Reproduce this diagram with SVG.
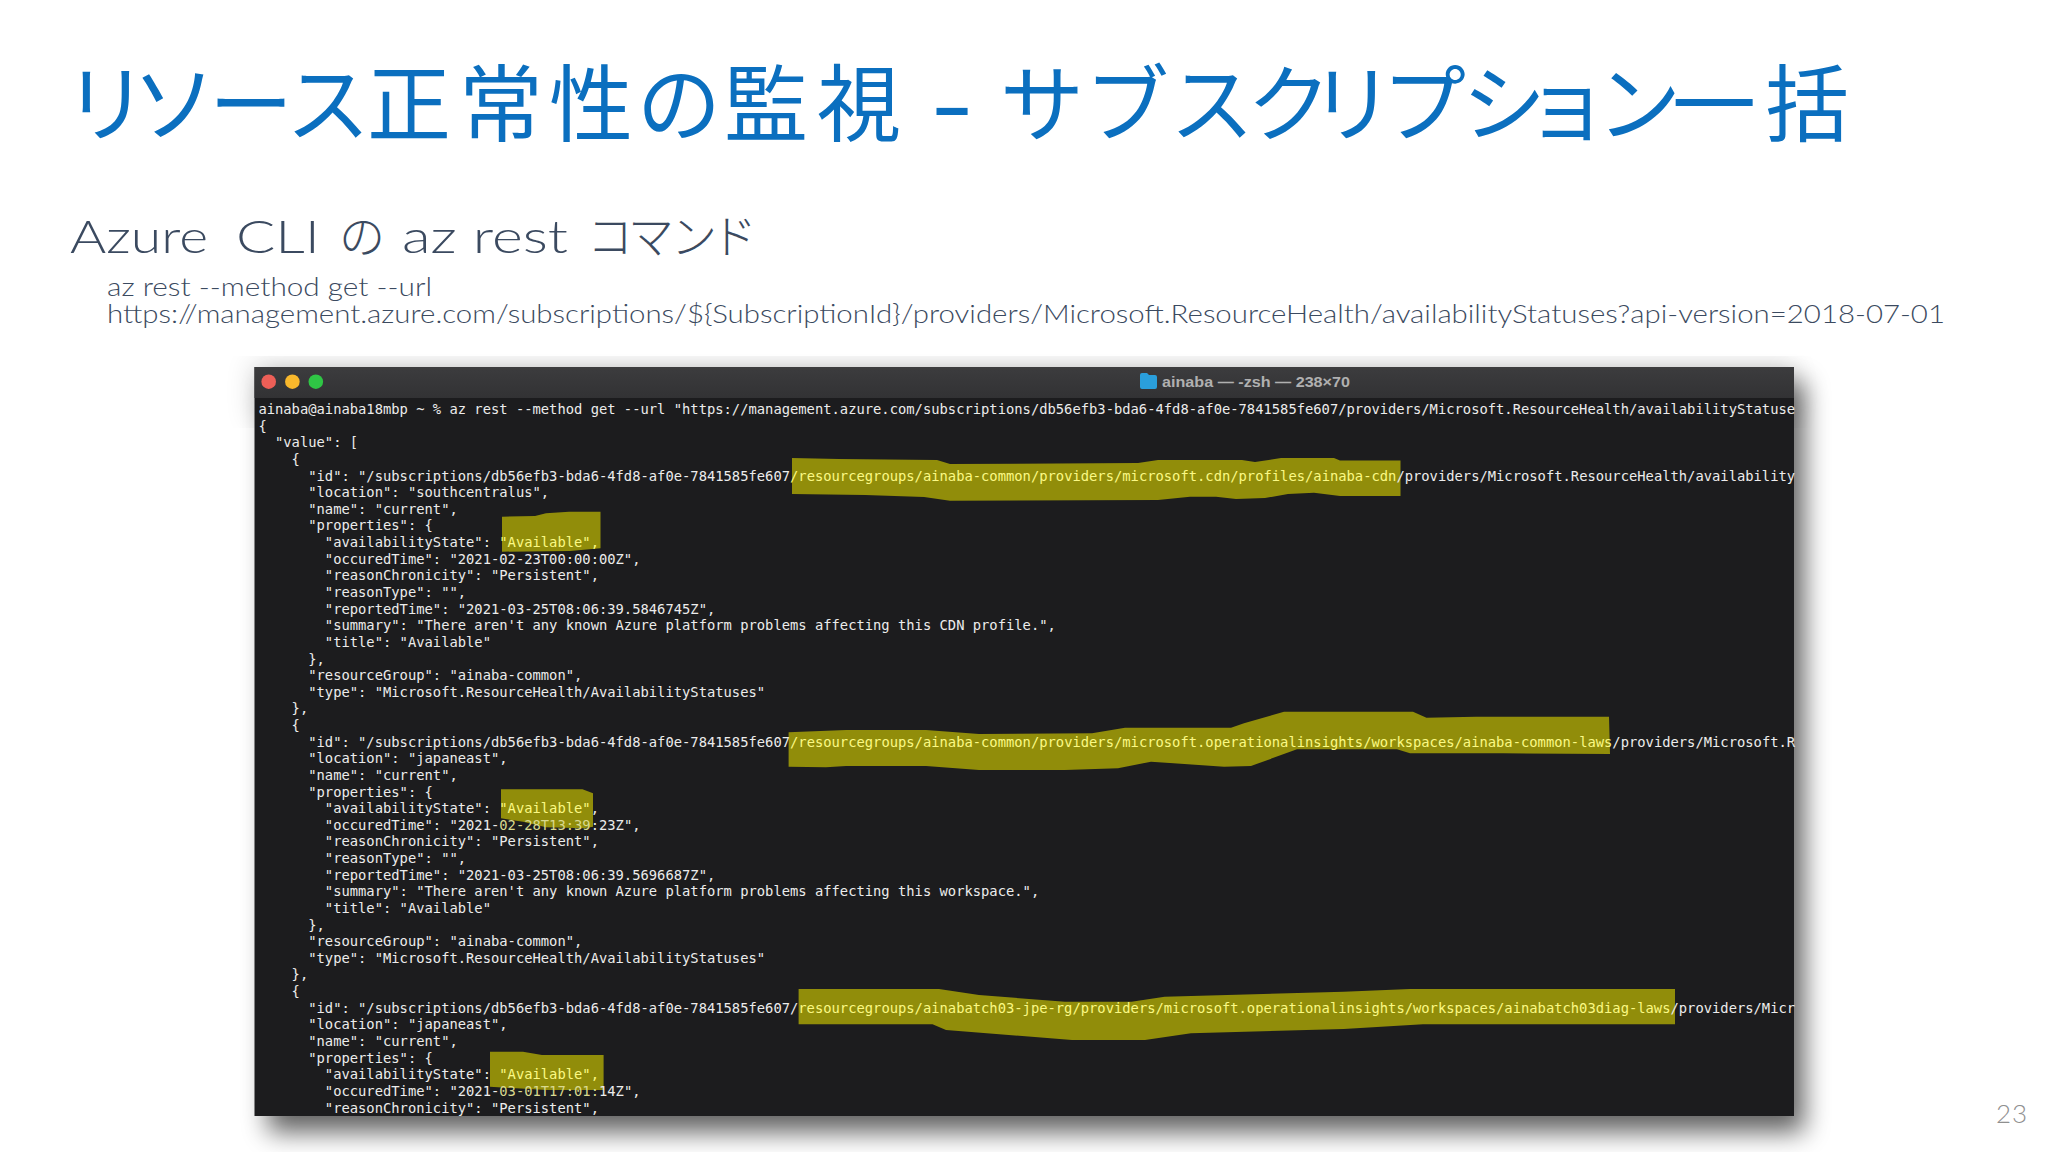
<svg xmlns="http://www.w3.org/2000/svg" width="2048" height="1152" viewBox="0 0 2048 1152">
<defs>
<filter id="sh" x="-10%" y="-10%" width="120%" height="120%"><feGaussianBlur stdDeviation="13"/></filter>
<linearGradient id="tb" x1="0" y1="0" x2="0" y2="1"><stop offset="0" stop-color="#3c3c3e"/><stop offset="1" stop-color="#323234"/></linearGradient>
</defs>
<style>
.t{font-family:"Noto Sans CJK JP","Noto Sans",sans-serif;font-size:84px;fill:#0b6fbf}
.s{font-family:"Lato","Noto Sans CJK JP",sans-serif;font-weight:300;fill:#3b4a60}
.m{font-family:"DejaVu Sans Mono","Liberation Mono",monospace;font-size:13.8px;fill:#ececec;white-space:pre}
.y{fill:#fbf984}
.d{fill:#d9d98e}
.hl{fill:#918d0a}
</style>
<rect width="2048" height="1152" fill="#ffffff"/>
<g id="title">
<text class="t" y="135"><tspan x="64 132 209 286 367 459 549 637 724 817">リソース正常性の監視</tspan></text>
<text class="t" x="931" y="135" font-weight="500" textLength="42" lengthAdjust="spacingAndGlyphs">-</text>
<text class="t" y="135"><tspan x="1000 1085 1170 1247 1310 1382 1462 1525 1597 1672 1765">サブスクリプション一括</tspan></text>
</g>
<g id="subtitle">
<text class="s" y="253" font-size="46"><tspan x="70" textLength="138" lengthAdjust="spacingAndGlyphs">Azure</tspan> <tspan x="236" textLength="84" lengthAdjust="spacingAndGlyphs">CLI</tspan> <tspan x="339">の</tspan> <tspan x="402" textLength="166" lengthAdjust="spacingAndGlyphs">az rest</tspan> <tspan x="587 628 671 711">コマンド</tspan></text>
<text class="s" x="107" y="296" font-size="26" textLength="325" lengthAdjust="spacingAndGlyphs">az rest --method get --url</text>
<text class="s" x="107" y="323" font-size="26" textLength="1838" lengthAdjust="spacingAndGlyphs">https://management.azure.com/subscriptions/${SubscriptionId}/providers/Microsoft.ResourceHealth/availabilityStatuses?api-version=2018-07-01</text>
</g>
<g id="terminal">
<rect x="268" y="382" width="1536" height="750" fill="#000" opacity=".62" filter="url(#sh)"/>
<rect x="250" y="362" width="1544" height="60" fill="#000" opacity=".12" filter="url(#sh)"/>
<rect x="254.5" y="367" width="1539.5" height="749" fill="#1c1c1e"/>
<rect x="254.5" y="367" width="1539.5" height="31" fill="url(#tb)"/>
<circle cx="268.7" cy="381.7" r="7.3" fill="#ed5f57"/>
<circle cx="292.4" cy="381.7" r="7.3" fill="#f9b82c"/>
<circle cx="315.8" cy="381.7" r="7.3" fill="#2fc645"/>
<path d="M1140 375q0-2 2-2h5l2 2h6q2 0 2 2v10q0 2-2 2h-13q-2 0-2-2z" fill="#2a9fdc"/>
<text x="1162" y="386.5" font-family="Liberation Sans, sans-serif" font-weight="700" font-size="15" fill="#b0b0b0" textLength="188" lengthAdjust="spacingAndGlyphs">ainaba — -zsh — 238×70</text>
<polygon class="hl" points="792,458 839,459 937,460 950,464 1138,463 1158,460 1242,460 1255,462 1281,458 1334,458 1340,460.6 1400.5,460.5 1400.5,496 1340,496 1314,492.7 1288,494 1265,498 1236,499 1216,496.7 1190,496.7 1158,500 950,500.7 924,497 865,495 792,494"/>
<polygon class="hl" points="502,516.7 535,516 546,513.3 569,511.7 600.5,511.7 600.5,548.3 570,551 502,551.7"/>
<polygon class="hl" points="788.6,732.3 846,730 926,730 979,734 1092,733.3 1125,727.7 1231,727.7 1244,723.3 1284,711.7 1413,711.7 1426.5,717.7 1476,716.7 1609,716.7 1610,754 1503,753.3 1410,753.3 1397,749.3 1297,749.3 1251,766 1224,766.7 1151,761.7 1118,768.3 1065,770 979,770 926,766 846,766 826,767.3 788.6,766.7"/>
<polygon class="hl" points="501,789.3 582.5,789.3 593,793.3 593,826.7 584,828.3 546,827.3 523,821.7 501,818.3"/>
<polygon class="hl" points="798.6,989 939,989 979,995 1065,1001.7 1131.5,1001.7 1164.6,996.7 1343.7,991.7 1410,989 1675,989 1675,1024.3 1423,1024.3 1343.7,1029 1191,1033.3 1145,1040 1072,1040 946,1030 932.5,1024.3 798.6,1024.3"/>
<polygon class="hl" points="490,1051.7 523,1051.7 542,1055 603.6,1055 603.6,1090 546,1090 490,1086.7"/>
<g xml:space="preserve">
<text class="m" x="258.4" y="414">ainaba@ainaba18mbp ~ % az rest --method get --url "https://management.azure.com/subscriptions/db56efb3-bda6-4fd8-af0e-7841585fe607/providers/Microsoft.ResourceHealth/availabilityStatuse</text>
<text class="m" x="258.4" y="430.6">{</text>
<text class="m" x="258.4" y="447.3">  "value": [</text>
<text class="m" x="258.4" y="463.9">    {</text>
<text class="m" x="258.4" y="480.5">      "id": "/subscriptions/db56efb3-bda6-4fd8-af0e-7841585fe607<tspan class="y">/resourcegroups/ainaba-common/providers/microsoft.cdn/profiles/ainaba-cdn</tspan>/providers/Microsoft.ResourceHealth/availability</text>
<text class="m" x="258.4" y="497.2">      "location": "southcentralus",</text>
<text class="m" x="258.4" y="513.8">      "name": "current",</text>
<text class="m" x="258.4" y="530.4">      "properties": {</text>
<text class="m" x="258.4" y="547">        "availabilityState": <tspan class="y">"Available",</tspan></text>
<text class="m" x="258.4" y="563.7">        "occuredTime": "2021-02-23T00:00:00Z",</text>
<text class="m" x="258.4" y="580.3">        "reasonChronicity": "Persistent",</text>
<text class="m" x="258.4" y="596.9">        "reasonType": "",</text>
<text class="m" x="258.4" y="613.6">        "reportedTime": "2021-03-25T08:06:39.5846745Z",</text>
<text class="m" x="258.4" y="630.2">        "summary": "There aren't any known Azure platform problems affecting this CDN profile.",</text>
<text class="m" x="258.4" y="646.8">        "title": "Available"</text>
<text class="m" x="258.4" y="663.5">      },</text>
<text class="m" x="258.4" y="680.1">      "resourceGroup": "ainaba-common",</text>
<text class="m" x="258.4" y="696.7">      "type": "Microsoft.ResourceHealth/AvailabilityStatuses"</text>
<text class="m" x="258.4" y="713.3">    },</text>
<text class="m" x="258.4" y="730">    {</text>
<text class="m" x="258.4" y="746.6">      "id": "/subscriptions/db56efb3-bda6-4fd8-af0e-7841585fe607<tspan class="y">/resourcegroups/ainaba-common/providers/microsoft.operationalinsights/workspaces/ainaba-common-laws</tspan>/providers/Microsoft.R</text>
<text class="m" x="258.4" y="763.2">      "location": "japaneast",</text>
<text class="m" x="258.4" y="779.9">      "name": "current",</text>
<text class="m" x="258.4" y="796.5">      "properties": {</text>
<text class="m" x="258.4" y="813.1">        "availabilityState": <tspan class="y">"Available"</tspan>,</text>
<text class="m" x="258.4" y="829.8">        "occuredTime": "2021-<tspan class="d">02-28T13:39</tspan>:23Z",</text>
<text class="m" x="258.4" y="846.4">        "reasonChronicity": "Persistent",</text>
<text class="m" x="258.4" y="863">        "reasonType": "",</text>
<text class="m" x="258.4" y="879.6">        "reportedTime": "2021-03-25T08:06:39.5696687Z",</text>
<text class="m" x="258.4" y="896.3">        "summary": "There aren't any known Azure platform problems affecting this workspace.",</text>
<text class="m" x="258.4" y="912.9">        "title": "Available"</text>
<text class="m" x="258.4" y="929.5">      },</text>
<text class="m" x="258.4" y="946.2">      "resourceGroup": "ainaba-common",</text>
<text class="m" x="258.4" y="962.8">      "type": "Microsoft.ResourceHealth/AvailabilityStatuses"</text>
<text class="m" x="258.4" y="979.4">    },</text>
<text class="m" x="258.4" y="996.1">    {</text>
<text class="m" x="258.4" y="1012.7">      "id": "/subscriptions/db56efb3-bda6-4fd8-af0e-7841585fe607/<tspan class="y">resourcegroups/ainabatch03-jpe-rg/providers/microsoft.operationalinsights/workspaces/ainabatch03diag-laws</tspan>/providers/Micr</text>
<text class="m" x="258.4" y="1029.3">      "location": "japaneast",</text>
<text class="m" x="258.4" y="1045.9">      "name": "current",</text>
<text class="m" x="258.4" y="1062.6">      "properties": {</text>
<text class="m" x="258.4" y="1079.2">        "availabilityState": <tspan class="y">"Available",</tspan></text>
<text class="m" x="258.4" y="1095.8">        "occuredTime": "2021-<tspan class="d">03-01T17:01:</tspan>14Z",</text>
<text class="m" x="258.4" y="1112.5">        "reasonChronicity": "Persistent",</text>
</g>
</g>
<g id="page-number">
<text x="1996" y="1123" font-family="Lato, sans-serif" font-weight="300" font-size="26" fill="#8f8f8f" textLength="31">23</text>
</g>
</svg>
